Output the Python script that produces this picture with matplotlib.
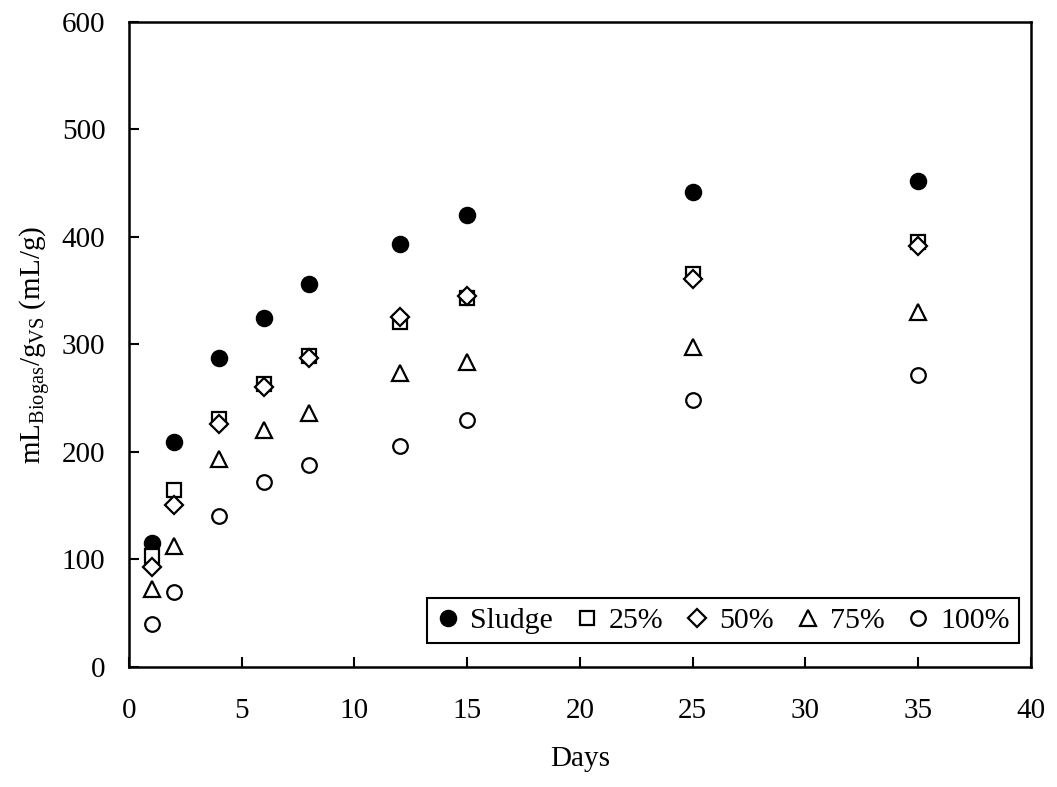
import matplotlib
matplotlib.use("Agg")
import matplotlib.pyplot as plt

plt.rcParams['font.family'] = ['Liberation Serif', 'DejaVu Serif']
plt.rcParams['mathtext.fontset'] = 'custom'
plt.rcParams['mathtext.rm'] = 'Liberation Serif'
plt.rcParams['mathtext.it'] = 'Liberation Serif:italic'

days = [1, 2, 4, 6, 8, 12, 15, 25, 35]
sludge = [115, 209, 287, 325, 356, 393, 420, 442, 452]
p25 = [103, 165, 231, 263, 289, 321, 343, 366, 395]
p50 = [93, 151, 226, 260, 287, 326, 345, 361, 392]
p75 = [73, 113, 193, 220, 236, 273, 284, 298, 330]
p100 = [40, 70, 140, 172, 188, 206, 230, 248, 272]

series = [
    ("Sludge", sludge, 'o', 'black', 11),
    ("25%", p25, 's', 'white', 10),
    ("50%", p50, 'D', 'white', 9),
    ("75%", p75, '^', 'white', 11),
    ("100%", p100, 'o', 'white', 10.5),
]

fig = plt.figure(figsize=(10.57, 7.87), dpi=100)
ax = fig.add_axes([0.1220, 0.1525, 0.8534, 0.8196])

for name, vals, m, fc, ms in series:
    ax.plot(days, vals, linestyle='none', marker=m, markersize=ms,
            markerfacecolor=fc, markeredgecolor='black', markeredgewidth=1.6,
            label=name)

ax.set_xlim(0, 40)
ax.set_ylim(0, 600)
ax.set_xticks(range(0, 41, 5))
ax.set_yticks(range(0, 601, 100))
ax.tick_params(direction='in', length=7, width=1.5, labelsize=21)
ax.tick_params(axis='x', pad=22)
ax.tick_params(axis='y', pad=17)
for s in ['top', 'right', 'left', 'bottom']:
    ax.spines[s].set_linewidth(1.8)

ax.set_xlabel('Days', fontsize=21, labelpad=16)
ax.set_ylabel(r'mL$_{\mathrm{Biogas}}$/g$_{\mathrm{VS}}$ (mL/g)', fontsize=21, labelpad=6)

leg = ax.legend(loc='lower right', ncol=5, fontsize=21.5, frameon=True, fancybox=False,
                edgecolor='black', framealpha=1, markerscale=1.0, handlelength=0.8,
                handletextpad=0.35, columnspacing=0.72, borderpad=0.3,
                borderaxespad=0, bbox_to_anchor=(0.9867, 0.0372))
leg.get_frame().set_linewidth(1.5)

fig.savefig('out.png', dpi=100)
